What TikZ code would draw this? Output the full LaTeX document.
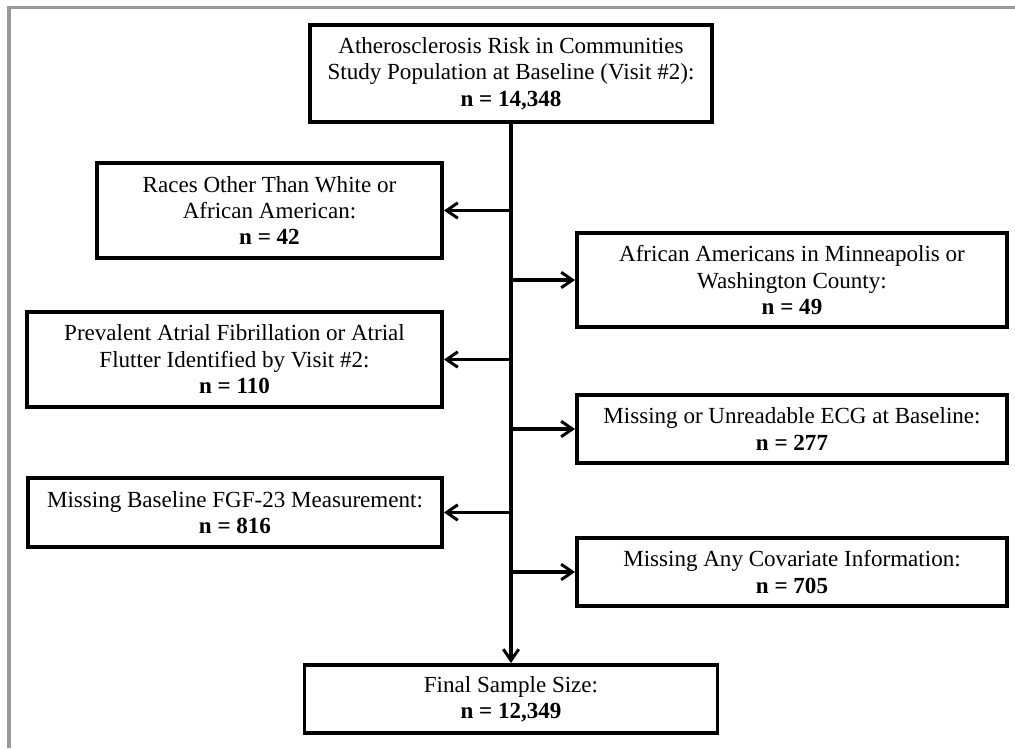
\documentclass[tikz,border=0pt]{standalone}
\usepackage{fontspec}
\setmainfont{Liberation Serif}
\usetikzlibrary{arrows.meta}
\tikzset{
    every node/.style={draw, line width=2.8pt, align=center, inner sep=0pt,
    	font=\fontsize{16.4}{18.8}\selectfont}
}
\tikzset{
    every edge/.append style={line width=2.3pt,
    	-{Straight Barb[length=8pt,width=11pt,line width=2.1pt]}}
}
\tikzset{
	frame/.style={draw=black!40, line width=2.6pt}
}

\begin{document}
\begin{tikzpicture}
  \useasboundingbox (0,0) rectangle (25.375cm,-18.7cm);
  \path [frame] (0.225cm,-18.7cm) |- (25.375cm,-0.1875cm);

  \node (top) [minimum width=10.05cm, minimum height=2.425cm] at (12.775cm,-1.8375cm)
    {Atherosclerosis Risk in Communities\\ Study Population at Baseline (Visit \#2):\\ \textbf{n = 14,348}};

  \node (races) [minimum width=8.625cm, minimum height=2.375cm] at (6.7375cm,-5.2625cm)
    {Races Other Than White or\\ African American:\\ \textbf{n = 42}};

  \node (afr) [minimum width=10.75cm, minimum height=2.35cm] at (19.8cm,-7cm)
    {African Americans in Minneapolis or\\ Washington County:\\ \textbf{n = 49}};

  \node (af) [minimum width=10.375cm, minimum height=2.375cm] at (5.8625cm,-8.9875cm)
    {Prevalent Atrial Fibrillation or Atrial\\ Flutter Identified by Visit \#2:\\ \textbf{n = 110}};

  \node (ecg) [minimum width=10.75cm, minimum height=1.7cm] at (19.8cm,-10.725cm)
    {Missing or Unreadable ECG at Baseline:\\ \textbf{n = 277}};

  \node (fgf) [minimum width=10.35cm, minimum height=1.725cm] at (5.875cm,-12.8125cm)
    {Missing Baseline FGF-23 Measurement:\\ \textbf{n = 816}};

  \node (cov) [minimum width=10.75cm, minimum height=1.7cm] at (19.8cm,-14.3cm)
    {Missing Any Covariate Information:\\ \textbf{n = 705}};

  \node (final) [minimum width=10.325cm, minimum height=1.7cm] at (12.775cm,-17.475cm)
    {Final Sample Size:\\ \textbf{n = 12,349}};

  \coordinate (j1) at (top.south |- races.east);
  \coordinate (j2) at (top.south |- afr.west);
  \coordinate (j3) at (top.south |- af.east);
  \coordinate (j4) at (top.south |- ecg.west);
  \coordinate (j5) at (top.south |- fgf.east);
  \coordinate (j6) at (top.south |- cov.west);

  \draw (top.south) edge (final.north);
  \draw (j1) edge (races.east); \draw (j2) edge (afr.west);
  \draw (j3) edge (af.east); \draw (j4) edge (ecg.west);
  \draw (j5) edge (fgf.east); \draw (j6) edge (cov.west);
\end{tikzpicture}
\end{document}
